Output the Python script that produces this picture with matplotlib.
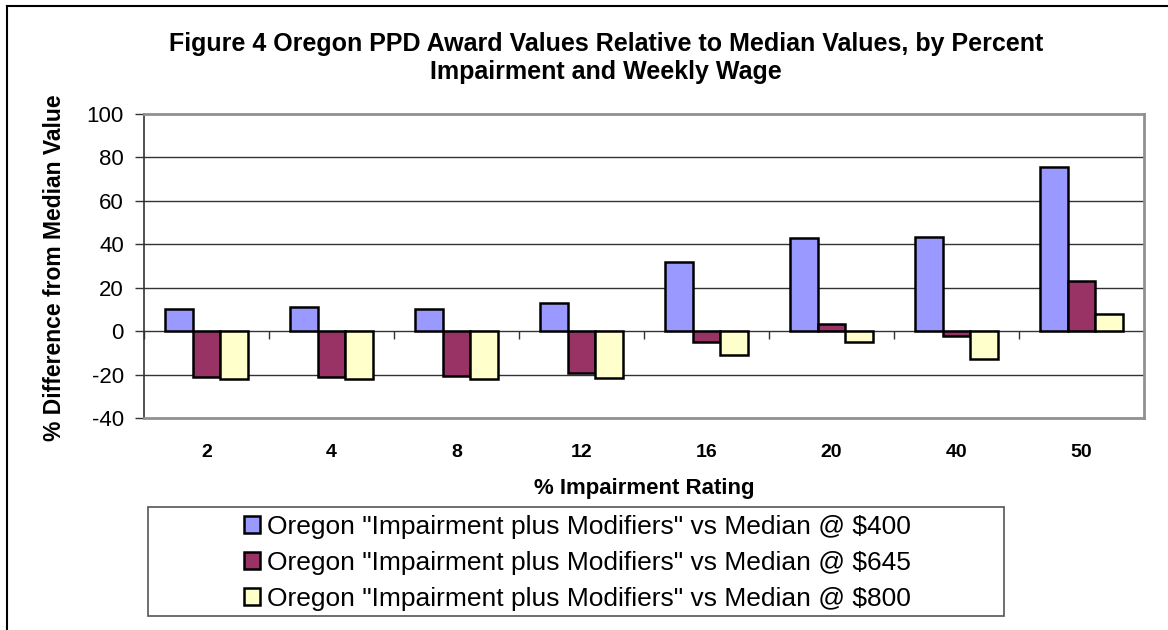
import numpy as np
import matplotlib
matplotlib.use("Agg")
import matplotlib.pyplot as plt
from matplotlib.patches import Rectangle
from matplotlib.lines import Line2D

plt.rcParams['font.family'] = ['Liberation Sans', 'DejaVu Sans']

categories = ["2", "4", "8", "12", "16", "20", "40", "50"]
wage400 = [10.4, 10.9, 10.0, 13.0, 32.0, 43.1, 43.2, 75.4]
wage645 = [-21.1, -21.0, -20.7, -19.2, -5.2, 3.2, -2.1, 23.1]
wage800 = [-21.9, -21.9, -22.2, -21.6, -11.0, -4.9, -12.6, 8.0]
series_labels = ['Oregon "Impairment plus Modifiers" vs Median @ $400',
                 'Oregon "Impairment plus Modifiers" vs Median @ $645',
                 'Oregon "Impairment plus Modifiers" vs Median @ $800']
colors = ["#9999FF", "#993366", "#FFFFCC"]
yticks = [-40, -20, 0, 20, 40, 60, 80, 100]

W, H = 1168, 630
fig = plt.figure(figsize=(W / 100, H / 100), dpi=100)
fig.patch.set_facecolor("white")

ax = fig.add_axes([144 / W, 1 - 418 / H, (1144 - 144) / W, (418 - 114) / H])
ymin, ymax = -40, 100
ax.set_ylim(ymin, ymax)
n = len(categories)
ax.set_xlim(-0.5, n - 0.5)

x = np.arange(n)
bw = 1 / 4.5
handles = []
for i, (vals, c, lab) in enumerate(zip([wage400, wage645, wage800], colors, series_labels)):
    h = ax.bar(x + (i - 1) * bw, vals, width=bw, color=c, edgecolor="black",
               linewidth=1.8, label=lab, zorder=3)
    handles.append(h)

# gridlines
for yv in yticks[1:-1]:
    if yv != 0:
        ax.axhline(yv, color="#333333", linewidth=1.0, zorder=1)

# category axis at zero
sec = ax.secondary_xaxis((0 - ymin) / (ymax - ymin))
sec.set_xticks(np.arange(n + 1) - 0.5)
sec.set_xticklabels([])
sec.tick_params(axis="x", direction="out", length=6, width=1, color="#333333")
sec.spines["bottom"].set_color("#333333")
sec.spines["bottom"].set_linewidth(1.0)

ax.set_xticks(x)
ax.set_xticklabels(categories, fontsize=14, fontweight="bold")
ax.tick_params(axis="x", length=0, pad=19)
ax.set_yticks(yticks)
ax.set_yticklabels([str(v) for v in yticks], fontsize=16)
ax.tick_params(axis="y", direction="out", length=6.5, width=1, color="#333333", pad=8)

for s in ["top", "right", "bottom"]:
    ax.spines[s].set_color("#909090")
    ax.spines[s].set_linewidth(2)
ax.spines["left"].set_color("#333333")
ax.spines["left"].set_linewidth(1.2)

ax.set_xlabel("% Impairment Rating", fontsize=16, fontweight="bold", labelpad=12)
fig.text(55 / W, 1 - 268 / H, "% Difference from Median Value", rotation=90,
         fontsize=16.5, fontweight="bold", ha="center", va="center")

fig.text(606 / W, 1 - 51 / H, "Figure 4 Oregon PPD Award Values Relative to Median Values, by Percent",
         fontsize=18, fontweight="bold", ha="center", va="baseline")
fig.text(606 / W, 1 - 79 / H, "Impairment and Weekly Wage",
         fontsize=18, fontweight="bold", ha="center", va="baseline")

# outer chart border (left and top)
fig.add_artist(Line2D([7 / W, 7 / W], [0, 1 - 6 / H], transform=fig.transFigure,
                      color="black", linewidth=1.5))
fig.add_artist(Line2D([7 / W, 1], [1 - 6 / H, 1 - 6 / H], transform=fig.transFigure,
                      color="black", linewidth=1.5))

# legend box
fig.add_artist(Rectangle((148 / W, 1 - 616 / H), (1004 - 148) / W, (616 - 507) / H,
                         transform=fig.transFigure, facecolor="none",
                         edgecolor="#555555", linewidth=1.2))
leg = fig.legend(handles=handles, labels=series_labels, loc="center",
                 bbox_to_anchor=(577 / W, 1 - 563 / H), frameon=False,
                 fontsize=19, handlelength=0.62, handleheight=0.62,
                 handletextpad=0.25, labelspacing=0.45, borderpad=0)

fig.savefig("out.png", dpi=100, facecolor="white")
